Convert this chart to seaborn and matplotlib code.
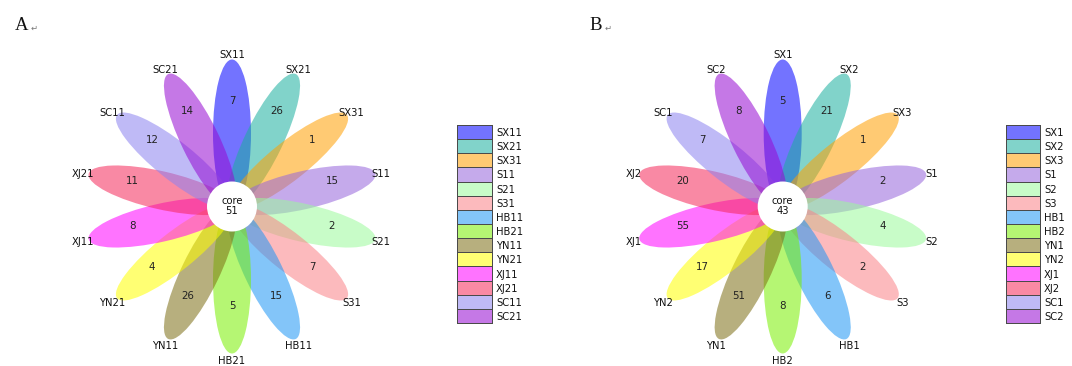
import numpy as np
import matplotlib
matplotlib.use("Agg")
import matplotlib.pyplot as plt
from matplotlib.patches import Ellipse, Circle
from matplotlib.colors import ListedColormap, to_rgba
import seaborn as sns

# Panel A samples, unique counts and core size
samples_a = ["SX11", "SX21", "SX31", "S11", "S21", "S31", "HB11",
             "HB21", "YN11", "YN21", "XJ11", "XJ21", "SC11", "SC21"]
counts_a = [7, 26, 1, 15, 2, 7, 15, 5, 26, 4, 8, 11, 12, 14]
core_a = 51

# Panel B samples, unique counts and core size
samples_b = ["SX1", "SX2", "SX3", "S1", "S2", "S3", "HB1",
             "HB2", "YN1", "YN2", "XJ1", "XJ2", "SC1", "SC2"]
counts_b = [5, 21, 1, 2, 4, 2, 6, 8, 51, 17, 55, 20, 7, 8]
core_b = 43

petal_colors = ["#0000ff", "#1aaf9f", "#ffa000", "#9664dc", "#9bfa9b",
                "#fa8287", "#1e96f5", "#78f000", "#7d6e14", "#ffff00",
                "#ff00ff", "#f5285a", "#8c82f0", "#960ad2"]
PETAL_ALPHA = 0.55

sns.set_theme(style="white")
plt.rcParams["font.family"] = ["DejaVu Sans"]

W, H, DPI = 1072, 366, 100
fig = plt.figure(figsize=(W / DPI, H / DPI), dpi=DPI)


def flower(cx, cy, names, counts, core):
    """Draw a petal diagram centred at pixel (cx, cy) measured from the top-left."""
    half = 200
    ax = fig.add_axes([(cx - half) / W, 0, 2 * half / W, 1])
    ax.set_xlim(-half, half)
    ax.set_ylim(-(H - cy), cy)
    ax.set_aspect("equal", adjustable="box")
    ax.axis("off")

    n = len(names)
    step = 360.0 / n
    for i, (name, val) in enumerate(zip(names, counts)):
        ang = 90 - i * step
        t = np.deg2rad(ang)
        ax.add_patch(Ellipse((73 * np.cos(t), 73 * np.sin(t)), width=148,
                             height=38, angle=ang, facecolor=petal_colors[i],
                             alpha=PETAL_ALPHA, lw=0, zorder=2))
        ax.text(102.5 * np.cos(t), 102.5 * np.sin(t) + 3, str(val),
                ha="center", va="center", fontsize=7.4, color="#222222",
                zorder=5)
        ax.text(153 * np.cos(t), 153 * np.sin(t) - 1.5, name,
                ha="center", va="center", fontsize=7.2, color="#111111",
                zorder=5)
    ax.add_patch(Circle((0, 0), 25, facecolor="white", lw=0, zorder=4))
    ax.text(0, 0, f"core\n{core}", ha="center", va="center", fontsize=7.2,
            linespacing=1.0, color="#111111", zorder=5)


def legend(x0, x1, y0, y1, names):
    """Stacked colour key with sample names on the right."""
    lax = fig.add_axes([x0 / W, 1 - y1 / H, (x1 - x0) / W, (y1 - y0) / H])
    rgba = [to_rgba(c, PETAL_ALPHA) for c in petal_colors]
    data = np.arange(len(names)).reshape(-1, 1)
    sns.heatmap(data, ax=lax, cmap=ListedColormap(rgba), vmin=-0.5,
                vmax=len(names) - 0.5, cbar=False, linewidths=0.55,
                linecolor="#4a4a4a", xticklabels=False, yticklabels=names)
    lax.collections[0].set_clip_on(False)
    lax.yaxis.tick_right()
    lax.tick_params(axis="y", length=0, pad=3, labelsize=7.2,
                    labelcolor="#111111")
    plt.setp(lax.get_yticklabels(), rotation=0)


flower(232, 206.5, samples_a, counts_a, core_a)
legend(457, 492, 125, 323, samples_a)
flower(782.7, 206.5, samples_b, counts_b, core_b)
legend(1006, 1040, 125, 323, samples_b)

for x, letter in [(15, "A"), (589, "B")]:
    fig.text(x / W, 1 - 25 / H, letter, family=["Liberation Serif"],
             fontsize=13.5, va="center", ha="left", color="#111111")
    fig.text((x + 16) / W, 1 - 28 / H, "\u21b5", fontsize=6,
             color="#777777", va="center", ha="left")

fig.savefig("out.png", dpi=DPI, facecolor="white")
